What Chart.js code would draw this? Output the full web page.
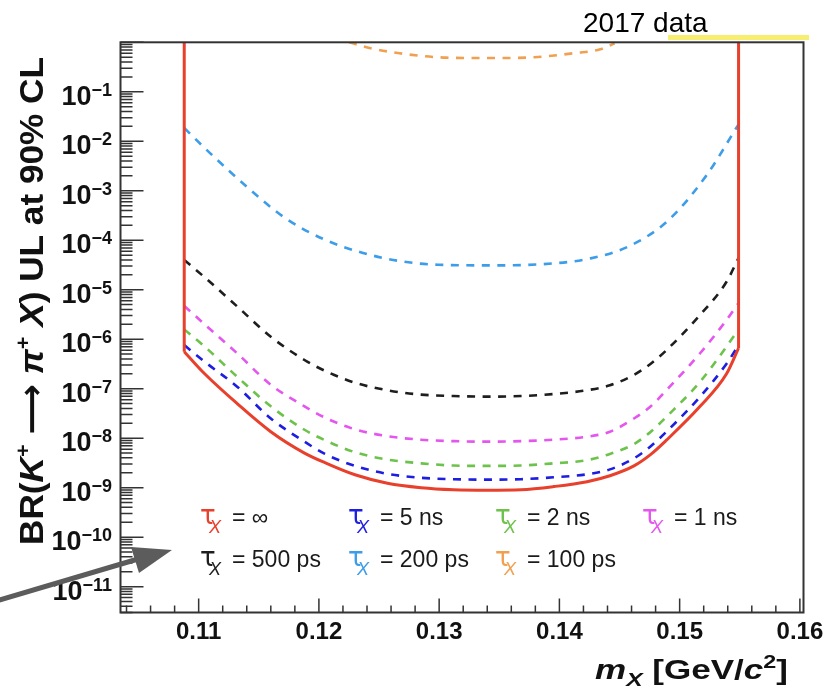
<!DOCTYPE html>
<html>
<head>
<meta charset="utf-8">
<script src="https://cdn.jsdelivr.net/npm/chart.js@4.4.1/dist/chart.umd.min.js"></script>
<style>
  html, body { margin: 0; padding: 0; background: #ffffff; }
  canvas { display: block; }
</style>
</head>
<body>
<canvas id="ul" width="828" height="691"></canvas>
<script>
// m_X sampling (GeV/c^2) shared by the lower upper-limit curves
const massGrid = [0.1088, 0.1105, 0.1132, 0.1160, 0.1188, 0.1205, 0.1230, 0.1257, 0.1285, 0.1312,
                  0.1340, 0.1368, 0.1395, 0.1423, 0.1442, 0.1462, 0.1476, 0.1489, 0.1517, 0.1539, 0.1549];

// BR upper limits at 90% CL for each lifetime hypothesis
const ulInfinite = [5.6e-7, 2.0e-7, 5.0e-8, 1.35e-8, 5.0e-9, 3.2e-9, 1.82e-9, 1.23e-9, 1.0e-9, 9.1e-10,
                    8.9e-10, 9.1e-10, 1.05e-9, 1.32e-9, 1.74e-9, 2.75e-9, 4.7e-9, 9.1e-9, 4.4e-8, 2.0e-7, 6.6e-7];
const ul5ns      = [7.6e-7, 3.5e-7, 1.1e-7, 2.5e-8, 8.5e-9, 4.8e-9, 2.75e-9, 1.9e-9, 1.58e-9, 1.48e-9,
                    1.45e-9, 1.48e-9, 1.62e-9, 1.86e-9, 2.34e-9, 3.9e-9, 6.9e-9, 1.35e-8, 6.9e-8, 3.2e-7, 7.6e-7];
const ul2ns      = [1.58e-6, 7.1e-7, 1.74e-7, 4.4e-8, 1.48e-8, 9.1e-9, 5.2e-9, 3.7e-9, 3.1e-9, 2.8e-9,
                    2.75e-9, 2.8e-9, 3.1e-9, 3.6e-9, 4.8e-9, 7.6e-9, 1.35e-8, 2.7e-8, 1.38e-7, 7.1e-7, 1.58e-6];
const ul1ns      = [4.7e-6, 2.0e-6, 5.2e-7, 1.2e-7, 4.4e-8, 2.6e-8, 1.51e-8, 1.1e-8, 9.3e-9, 8.7e-9,
                    8.5e-9, 8.7e-9, 9.3e-9, 1.07e-8, 1.35e-8, 2.5e-8, 4.4e-8, 9.3e-8, 5.2e-7, 2.45e-6, 5.4e-6];
const ul500ps    = [4.0e-5, 1.78e-5, 4.6e-6, 1.12e-6, 3.8e-7, 2.3e-7, 1.32e-7, 9.3e-8, 7.6e-8, 7.1e-8,
                    6.9e-8, 7.1e-8, 7.8e-8, 9.3e-8, 1.17e-7, 1.9e-7, 3.2e-7, 6.0e-7, 3.1e-6, 1.45e-5, 4.4e-5];

const mass200ps  = [0.1088, 0.1109, 0.1141, 0.1172, 0.1204, 0.1236, 0.1267, 0.1299, 0.1347,
                    0.1395, 0.1426, 0.1458, 0.1490, 0.1522, 0.1549];
const ul200ps    = [1.86e-2, 5.9e-3, 1.15e-3, 2.8e-4, 1.05e-4, 5.6e-5, 3.8e-5, 3.2e-5, 3.1e-5,
                    3.4e-5, 4.3e-5, 7.6e-5, 2.45e-4, 2.0e-3, 2.2e-2];

const mass100ps  = [0.1225, 0.1243, 0.1267, 0.1306, 0.1347, 0.1379, 0.1414, 0.1434, 0.1446];
const ul100ps    = [1.0, 0.76, 0.60, 0.49, 0.48, 0.50, 0.61, 0.72, 0.95];

// edges of the signal mass window (the tau = infinity limit rises vertically there)
const windowEdges = [0.1088, 0.1549];
const windowTop = 1.0;

// axis ticks
const xMajorTicks = [0.11, 0.12, 0.13, 0.14, 0.15, 0.16];
const yDecades = [-11, -10, -9, -8, -7, -6, -5, -4, -3, -2, -1];

// legend texts, row by row
const legendRow1 = ['\u221e', '5 ns', '2 ns', '1 ns'];
const legendRow2 = ['500 ps', '200 ps', '100 ps'];

const C = {
  inf: '#e8402c', ns5: '#1e1ee0', ns2: '#6cc24a', ns1: '#e456ee',
  ps500: '#1e1e1e', ps200: '#3d9de8', ps100: '#f0a050'
};
const legendColors1 = [C.inf, C.ns5, C.ns2, C.ns1];
const legendColors2 = [C.ps500, C.ps200, C.ps100];

const SANS = '"Liberation Sans", Arial, Helvetica, sans-serif';
const DASH = [8, 7.5];

function pts(ms, vs) { return ms.map((m, i) => ({ x: m, y: vs[i] })); }

function dashed(label, ms, vs, color) {
  return {
    label, data: pts(ms, vs), borderColor: color, borderWidth: 2.6, borderDash: DASH,
    pointRadius: 0, fill: false, cubicInterpolationMode: 'monotone', order: 2
  };
}

// draw a run of differently styled text pieces, stretched to a given width
function richText(ctx, segs, x, y, width) {
  let total = 0;
  segs.forEach(s => { ctx.font = s.font; total += ctx.measureText(s.t).width; });
  const k = width ? width / total : 1;
  ctx.save();
  ctx.translate(x, y);
  ctx.scale(k, 1);
  let cx = 0;
  segs.forEach(s => {
    ctx.font = s.font;
    ctx.fillStyle = s.color || '#111';
    ctx.fillText(s.t, cx, s.dy || 0);
    cx += ctx.measureText(s.t).width;
  });
  ctx.restore();
}

const decorations = {
  id: 'decorations',
  afterDatasetsDraw(chart) {
    const { ctx, chartArea: a, scales: { x, y } } = chart;
    ctx.save();
    ctx.textBaseline = 'alphabetic';

    // frame
    ctx.strokeStyle = '#333';
    ctx.lineWidth = 2;
    ctx.strokeRect(a.left, a.top, a.right - a.left, a.bottom - a.top);

    // x ticks (inside, upward)
    ctx.lineWidth = 1.5;
    ctx.beginPath();
    for (let i = 0; i <= 30; i++) {
      const v = 0.104 + i * 0.002;
      const px = x.getPixelForValue(v);
      if (px < a.left || px > a.right) continue;
      const major = i % 5 === 3;
      ctx.moveTo(px, a.bottom);
      ctx.lineTo(px, a.bottom - (major ? 14 : 7));
    }
    ctx.stroke();

    // y ticks (inside, rightward), log subdivisions
    ctx.beginPath();
    for (let d = -12; d <= 0; d++) {
      for (let m = 1; m <= 9; m++) {
        const v = m * Math.pow(10, d);
        if (v < y.min * 0.999 || v > y.max * 1.001) continue;
        const py = y.getPixelForValue(v);
        ctx.moveTo(a.left, py);
        ctx.lineTo(a.left + (m === 1 ? 23 : 12), py);
      }
    }
    ctx.stroke();

    // x tick labels
    ctx.fillStyle = '#111';
    ctx.font = 'bold 24px ' + SANS;
    ctx.textAlign = 'center';
    xMajorTicks.forEach(v => {
      ctx.fillText(v.toFixed(2), x.getPixelForValue(v), 639);
    });

    // y tick labels 10^-k
    ctx.textAlign = 'left';
    yDecades.forEach(k => {
      const py = y.getPixelForValue(Math.pow(10, k));
      const sup = '\u2212' + Math.abs(k);
      ctx.font = 'bold 27px ' + SANS;
      const w10 = ctx.measureText('10').width;
      ctx.font = 'bold 18px ' + SANS;
      const ws = ctx.measureText(sup).width;
      const x0 = 112 - ws - w10;
      ctx.font = 'bold 27px ' + SANS;
      ctx.fillText('10', x0, py + 13);
      ctx.font = 'bold 18px ' + SANS;
      ctx.fillText(sup, x0 + w10, py + 4);
    });

    // y axis title
    ctx.save();
    ctx.translate(43, 545);
    ctx.rotate(-Math.PI / 2);
    const B = 'bold 34px ' + SANS, BI = 'bold italic 34px ' + SANS, BS = 'bold 21px ' + SANS;
    richText(ctx, [
      { t: 'BR(', font: B }, { t: 'K', font: BI }, { t: '+', font: BS, dy: -13 },
      { t: ' ', font: B }, { t: '\u27f6', font: 'bold 34px "DejaVu Sans", sans-serif' }, { t: ' ', font: B },
      { t: '\u03c0', font: BI }, { t: '+', font: BS, dy: -13 },
      { t: ' ', font: B }, { t: 'X', font: BI }, { t: ') UL at 90% CL', font: B }
    ], 0, 0, 488);
    ctx.restore();

    // x axis title
    const XB = 'bold 27px ' + SANS, XBI = 'bold italic 27px ' + SANS;
    richText(ctx, [
      { t: 'm', font: XBI }, { t: 'X', font: 'bold italic 19px ' + SANS, dy: 7 },
      { t: ' [GeV/', font: XB }, { t: 'c', font: XBI }, { t: '2', font: 'bold 18px ' + SANS, dy: -11 },
      { t: ']', font: XB }
    ], 595, 679, 193);

    // legend
    const colX = [200, 348, 495, 642];
    const rows = [[legendRow1, legendColors1, 525], [legendRow2, legendColors2, 567]];
    rows.forEach(([labels, colors, base]) => {
      labels.forEach((lab, i) => {
        const lx = colX[i];
        ctx.fillStyle = colors[i];
        ctx.font = '26px "DejaVu Sans", ' + SANS;
        ctx.fillText('\u03c4', lx, base - 1);
        ctx.font = 'italic 18px ' + SANS;
        ctx.fillText('X', lx + 9, base + 8);
        ctx.fillStyle = '#1a1a1a';
        ctx.font = '23px ' + SANS;
        ctx.fillText('= ' + lab, lx + 32, base);
      });
    });

    ctx.restore();
  },
  afterDraw(chart) {
    const { ctx } = chart;
    ctx.save();
    // data-taking label with highlight bar
    ctx.fillStyle = 'rgb(247, 238, 112)';
    ctx.fillRect(668, 35, 141, 5);
    ctx.fillStyle = '#000';
    ctx.font = '28px ' + SANS;
    ctx.textAlign = 'left';
    ctx.fillText('2017 data', 583, 32);

    // pointer arrow
    ctx.strokeStyle = '#5c5c5c';
    ctx.fillStyle = '#5c5c5c';
    ctx.lineWidth = 5;
    ctx.beginPath();
    ctx.moveTo(-4, 601);
    ctx.lineTo(138, 559);
    ctx.stroke();
    ctx.beginPath();
    ctx.moveTo(172, 550);
    ctx.lineTo(131, 547);
    ctx.lineTo(139, 573);
    ctx.closePath();
    ctx.fill();
    ctx.restore();
  }
};

new Chart(document.getElementById('ul'), {
  type: 'line',
  data: {
    datasets: [
      {
        label: '\u03c4 = \u221e', data: pts(massGrid, ulInfinite), borderColor: C.inf, borderWidth: 3,
        pointRadius: 0, fill: false, cubicInterpolationMode: 'monotone', order: 0
      },
      {
        label: 'window', data: [
          { x: windowEdges[0], y: windowTop }, { x: windowEdges[0], y: ulInfinite[0] },
          { x: windowEdges[0], y: null },
          { x: windowEdges[1], y: ulInfinite[ulInfinite.length - 1] }, { x: windowEdges[1], y: windowTop }
        ],
        borderColor: C.inf, borderWidth: 3, pointRadius: 0, fill: false, spanGaps: false, order: 0
      },
      dashed('5 ns', massGrid, ul5ns, C.ns5),
      dashed('2 ns', massGrid, ul2ns, C.ns2),
      dashed('1 ns', massGrid, ul1ns, C.ns1),
      dashed('500 ps', massGrid, ul500ps, C.ps500),
      dashed('200 ps', mass200ps, ul200ps, C.ps200),
      dashed('100 ps', mass100ps, ul100ps, C.ps100)
    ]
  },
  options: {
    responsive: false,
    animation: false,
    devicePixelRatio: 1,
    layout: { padding: { left: 120.5, top: 42.3, right: 24.5, bottom: 78.5 } },
    plugins: { legend: { display: false }, tooltip: { enabled: false }, title: { display: false } },
    scales: {
      x: { type: 'linear', min: 0.1035, max: 0.1603, display: false },
      y: { type: 'logarithmic', min: 3e-12, max: 1, display: false }
    },
    elements: { point: { radius: 0 } }
  },
  plugins: [decorations]
});
</script>
</body>
</html>
